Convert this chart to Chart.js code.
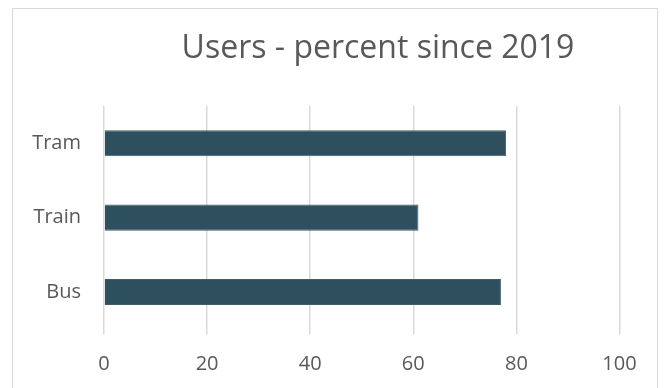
<!DOCTYPE html>
<html>
<head>
<meta charset="utf-8">
<script src="https://cdn.jsdelivr.net/npm/chart.js@4"></script>
<style>
  body { margin: 0; background: #fff; }
  #marco { position: absolute; left: 12px; top: 8px; width: 646px; height: 400px;
           border: 1.5px solid #d9d9d9; box-sizing: border-box; }
  #caja { position: absolute; left: 0; top: 0; width: 668px; height: 388px; }
</style>
</head>
<body>
<div id="marco"></div>
<div id="caja"><canvas id="misBarras"></canvas></div>
<script>
const CATEGORIAS = ["Tram", "Train", "Bus"];
const VALORES = [78, 61, 77];
const TITULO = "Users - percent since 2019";
const GRIS = "#595959";
const FUENTE = "'Open Sans'";

// titulo dibujado a mano, algo desplazado a la derecha como en Excel
const tituloPlugin = {
    id: "tituloExcel",
    afterDraw(chart) {
        const ctx = chart.ctx;
        ctx.save();
        ctx.font = "32px " + FUENTE;
        ctx.fillStyle = GRIS;
        ctx.textAlign = "center";
        ctx.textBaseline = "alphabetic";
        ctx.fillText(TITULO, 378, 58);
        ctx.restore();
    }
};

new Chart(document.getElementById("misBarras"), {
    type: "bar",
    data: {
        labels: CATEGORIAS,
        datasets: [{
            data: VALORES,
            backgroundColor: "#2e4f5e",
            borderColor: "#3d5d6b",
            borderWidth: 1,
            barPercentage: 0.35,
            categoryPercentage: 1
        }]
    },
    options: {
        indexAxis: "y",
        responsive: true,
        maintainAspectRatio: false,
        animation: false,
        layout: { padding: { top: 106, right: 48.5, bottom: 0, left: 0 } },
        plugins: { legend: { display: false }, tooltip: { enabled: false } },
        scales: {
            x: {
                min: 0, max: 100,
                ticks: { stepSize: 20, color: GRIS, font: { family: FUENTE, size: 20 }, padding: 18 },
                grid: { color: "#d9d9d9", lineWidth: 1.5, tickLength: 5 },
                border: { display: false },
                afterFit(s) { s.height = 58.7; }
            },
            y: {
                ticks: { color: GRIS, font: { family: FUENTE, size: 20 }, padding: 23 },
                grid: { display: false, drawTicks: false },
                border: { display: false },
                afterFit(s) { s.width = 104; }
            }
        }
    },
    plugins: [tituloPlugin]
});
</script>
</body>
</html>
